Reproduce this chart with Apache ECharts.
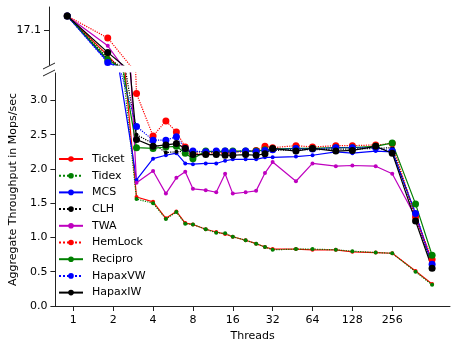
<!DOCTYPE html>
<html>
<head>
<meta charset="utf-8">
<script src="https://cdn.jsdelivr.net/npm/echarts@6/dist/echarts.min.js"></script>
<style>
html, body { margin: 0; padding: 0; background: #fff; }
#chart { width: 458px; height: 349px; }
</style>
</head>
<body>
<div id="chart"></div>
<script>
// thread counts (x) and throughput per lock, Mops/sec
var threads = [1, 2, 3, 4, 5, 6, 7, 8, 10, 12, 14, 16, 20, 24, 28, 32, 48, 64, 96, 128, 192, 256, 384, 512];

var ticket   = [33, 5.3, 1.59, 1.52, 1.28, 1.38, 1.21, 1.19, 1.12, 1.08, 1.05, 1.01, 0.96, 0.91, 0.86, 0.83, 0.83, 0.82, 0.82, 0.79, 0.78, 0.77, 0.51, 0.32];
var tidex    = [33, 4.8, 1.56, 1.50, 1.27, 1.37, 1.20, 1.19, 1.12, 1.07, 1.06, 1.01, 0.96, 0.91, 0.86, 0.82, 0.83, 0.83, 0.82, 0.80, 0.78, 0.77, 0.50, 0.31];
var mcs      = [33, 4.0, 1.84, 2.15, 2.20, 2.23, 2.08, 2.07, 2.08, 2.08, 2.12, 2.14, 2.14, 2.14, 2.17, 2.17, 2.18, 2.20, 2.25, 2.23, 2.26, 2.25, 1.35, 0.60];
var clh      = [33, 4.5, 2.50, 2.37, 2.24, 2.25, 2.26, 2.25, 2.25, 2.24, 2.25, 2.25, 2.26, 2.26, 2.27, 2.27, 2.28, 2.28, 2.29, 2.29, 2.30, 2.31, 1.30, 0.58];
var twa      = [33, 8.3, 1.80, 1.97, 1.64, 1.87, 1.96, 1.71, 1.69, 1.66, 1.93, 1.64, 1.66, 1.68, 1.94, 2.10, 1.82, 2.08, 2.04, 2.05, 2.04, 1.93, 1.30, 0.65];
var hemlock  = [33, 11.9, 3.10, 2.48, 2.70, 2.54, 2.32, 2.22, 2.22, 2.24, 2.23, 2.25, 2.25, 2.27, 2.33, 2.31, 2.34, 2.32, 2.34, 2.34, 2.35, 2.37, 1.30, 0.68];
var recipro  = [33, 4.3, 2.31, 2.30, 2.32, 2.33, 2.23, 2.15, 2.26, 2.25, 2.26, 2.26, 2.26, 2.26, 2.28, 2.29, 2.30, 2.30, 2.31, 2.31, 2.33, 2.38, 1.49, 0.74];
var hapaxVW  = [33, 3.8, 2.62, 2.42, 2.42, 2.47, 2.30, 2.26, 2.25, 2.26, 2.26, 2.25, 2.26, 2.25, 2.27, 2.28, 2.30, 2.29, 2.31, 2.31, 2.31, 2.26, 1.35, 0.61];
var hapaxIW  = [33, 6.1, 2.43, 2.33, 2.35, 2.37, 2.30, 2.21, 2.21, 2.21, 2.20, 2.20, 2.21, 2.20, 2.22, 2.30, 2.26, 2.30, 2.26, 2.27, 2.33, 2.23, 1.24, 0.55];

var xTicks = [1, 2, 4, 8, 16, 32, 64, 128, 256];
var yTicks = [0, 0.5, 1, 1.5, 2, 2.5, 3];
var topTicks = [17.1];

var font = 'DejaVu Sans';

window.onload = function () {
    draw_chart();
};

function makeLine(name, vals, color, dotted, big, idx) {
    return {
        name: name,
        type: 'line',
        xAxisIndex: idx,
        yAxisIndex: idx,
        data: threads.map(function (t, i) { return [t, vals[i]]; }),
        symbol: 'circle',
        symbolSize: big ? 7 : 4,
        showSymbol: true,
        clip: true,
        itemStyle: { color: color },
        lineStyle: { color: color, width: 1.2, type: dotted ? 'dotted' : 'solid' },
        emphasis: { disabled: true },
        animation: false
    };
}

function draw_chart() {
    var myChart = echarts.init(document.getElementById('chart'));

    var defs = [
        ['Ticket', ticket, '#ff0000', false, false],
        ['Tidex', tidex, '#008000', true, false],
        ['MCS', mcs, '#0000ff', false, false],
        ['CLH', clh, '#000000', true, false],
        ['TWA', twa, '#bf00bf', false, false],
        ['HemLock', hemlock, '#ff0000', true, true],
        ['Recipro', recipro, '#008000', false, true],
        ['HapaxVW', hapaxVW, '#0000ff', true, true],
        ['HapaxIW', hapaxIW, '#000000', false, true]
    ];

    var series = [];
    // same data in both panels, each one clips its own part
    [0, 1].forEach(function (idx) {
        defs.forEach(function (d) {
            series.push(makeLine(d[0], d[1], d[2], d[3], d[4], idx));
        });
    });

    var axisColor = '#222';
    var labelStyle = { fontFamily: font, fontSize: 11, color: '#000' };

    var option = {
        backgroundColor: '#fff',
        animation: false,
        grid: [
            { left: 49, right: 8, top: 7, height: 58 },
            { left: 49, right: 8, top: 73, height: 233 }
        ],
        legend: {
            data: defs.map(function (d) { return d[0]; }),
            orient: 'vertical',
            left: 53,
            top: 148,
            itemWidth: 24,
            itemHeight: 7,
            itemGap: 4.7,
            selectedMode: false,
            textStyle: { fontFamily: font, fontSize: 11, color: '#000', lineHeight: 12, padding: [0, 0, 0, 4] }
        },
        xAxis: [{
            gridIndex: 0,
            type: 'log',
            logBase: 2,
            min: 0.732,
            max: 699,
            show: false
        }, {
            gridIndex: 1,
            type: 'log',
            logBase: 2,
            min: 0.732,
            max: 699,
            name: 'Threads',
            nameLocation: 'middle',
            nameGap: 21,
            nameTextStyle: labelStyle,
            axisLine: { show: true, lineStyle: { color: axisColor, width: 1 } },
            axisTick: { show: true, customValues: xTicks, length: 5, lineStyle: { color: axisColor } },
            axisLabel: {
                customValues: xTicks,
                margin: 9,
                fontFamily: font, fontSize: 11, color: '#000',
                formatter: function (v) { return String(Math.round(v)); }
            },
            splitLine: { show: false },
            minorTick: { show: false }
        }],
        yAxis: [{
            gridIndex: 0,
            type: 'log',
            logBase: 10,
            min: 3.4,
            max: 50,
            axisLine: { show: true, lineStyle: { color: axisColor, width: 1 } },
            axisTick: { show: true, customValues: topTicks, length: 5, lineStyle: { color: axisColor } },
            axisLabel: {
                customValues: topTicks,
                margin: 8,
                fontFamily: font, fontSize: 11, color: '#000',
                formatter: function (v) { return Number(v).toFixed(1); }
            },
            splitLine: { show: false },
            minorTick: { show: false }
        }, {
            gridIndex: 1,
            type: 'value',
            min: 0,
            max: 3.4,
            name: 'Aggregate Throughput in Mops/sec',
            nameLocation: 'middle',
            nameGap: 34,
            nameRotate: 90,
            nameTextStyle: labelStyle,
            axisLine: { show: true, lineStyle: { color: axisColor, width: 1 } },
            axisTick: { show: true, customValues: yTicks, length: 5, lineStyle: { color: axisColor } },
            axisLabel: {
                customValues: yTicks,
                margin: 8,
                fontFamily: font, fontSize: 11, color: '#000',
                formatter: function (v) { return Number(v).toFixed(1); }
            },
            splitLine: { show: false }
        }],
        // axis break marks
        graphic: [
            { type: 'line', shape: { x1: 43, y1: 69, x2: 55, y2: 63 }, style: { stroke: axisColor, lineWidth: 1 } },
            { type: 'line', shape: { x1: 43, y1: 76, x2: 55, y2: 70 }, style: { stroke: axisColor, lineWidth: 1 } }
        ],
        series: series
    };

    myChart.setOption(option);
}
</script>
</body>
</html>
